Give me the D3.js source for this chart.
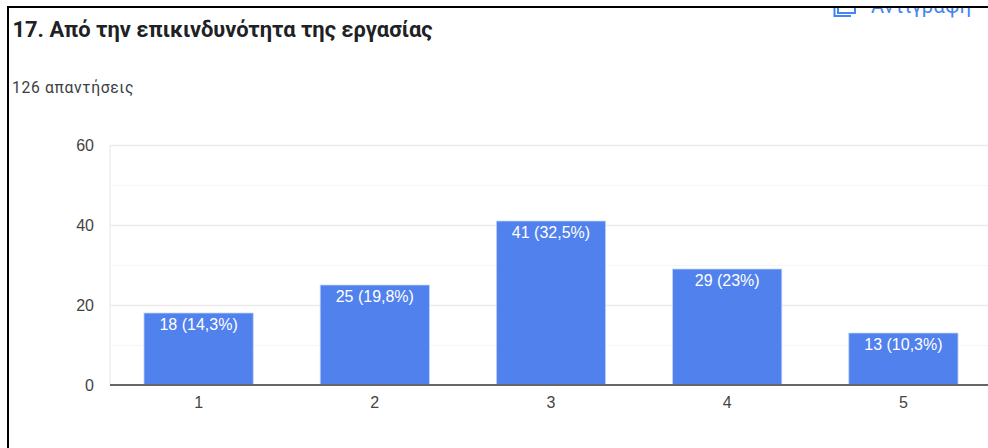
<!DOCTYPE html>
<html>
<head>
<meta charset="utf-8">
<script src="https://cdn.jsdelivr.net/npm/d3@7/dist/d3.min.js"></script>
<style>
html, body { margin: 0; padding: 0; background: #fff; }
svg { display: block; }
</style>
</head>
<body>
<svg id="chart" width="988" height="448"></svg>
<script>
const categories = ["1", "2", "3", "4", "5"];
const counts = [18, 25, 41, 29, 13];
const percentLabels = ["14,3%", "19,8%", "32,5%", "23%", "10,3%"];
const majorTicks = [0, 20, 40, 60];
const minorTicks = [10, 30, 50];

const titleText = "17. Από την επικινδυνότητα της εργασίας";
const subtitleText = "126 απαντήσεις";
const copyText = "Αντιγραφή";

const svg = d3.select("#chart");
const fontFamily = "Roboto, sans-serif";
const chartFont = "'Liberation Sans', Arial, sans-serif";

const x = d3.scaleBand().domain(categories).range([110.5, 991.5]).paddingInner(0.38).paddingOuter(0.19);
const y = d3.scaleLinear().domain([0, 60]).range([385, 145]);

// Panel header
svg.append("text").attr("x", 12.5).attr("y", 37)
  .attr("font-family", fontFamily).attr("font-size", 21.9).attr("font-weight", 700)
  .attr("fill", "#202124").text(titleText);
svg.append("text").attr("x", 12).attr("y", 93)
  .attr("font-family", fontFamily).attr("font-size", 15.7).attr("letter-spacing", 0.65)
  .attr("fill", "#3c4043").text(subtitleText);

// Copy button, cut off by the panel's top edge
svg.append("clipPath").attr("id", "panel-clip").append("rect")
  .attr("x", 0).attr("y", 7).attr("width", 988).attr("height", 441);
const copyBtn = svg.append("g").attr("clip-path", "url(#panel-clip)");
copyBtn.append("rect").attr("x", 838).attr("y", 2).attr("width", 17).attr("height", 11)
  .attr("fill", "none").attr("stroke", "#4285f4").attr("stroke-width", 2);
copyBtn.append("path").attr("d", d3.line()([[834.5, 2], [834.5, 16], [851, 16]]))
  .attr("fill", "none").attr("stroke", "#4285f4").attr("stroke-width", 2);
copyBtn.append("text").attr("x", 871).attr("y", 13)
  .attr("font-family", fontFamily).attr("font-size", 20).attr("letter-spacing", 0.4)
  .attr("fill", "#4285f4").text(copyText);

// Gridlines
const grid = svg.append("g");
grid.selectAll("line.minor").data(minorTicks).join("line").attr("class", "minor")
  .attr("x1", 110).attr("x2", 988).attr("y1", d => y(d) + 0.5).attr("y2", d => y(d) + 0.5)
  .attr("stroke", "#f6f6f6");
grid.selectAll("line.major").data(majorTicks.filter(d => d > 0)).join("line").attr("class", "major")
  .attr("x1", 110).attr("x2", 988).attr("y1", d => y(d) + 0.5).attr("y2", d => y(d) + 0.5)
  .attr("stroke", "#ececec").attr("stroke-width", 1.3);
grid.append("line").attr("x1", 110).attr("x2", 110).attr("y1", y(60)).attr("y2", y(0))
  .attr("stroke", "#ececec").attr("stroke-width", 1.3);

// Value axis
const yAxis = svg.append("g").attr("transform", "translate(110,0)")
  .call(d3.axisLeft(y).tickValues(majorTicks).tickSize(0).tickPadding(16));
yAxis.select(".domain").remove();
yAxis.selectAll("text").attr("font-family", chartFont).attr("font-size", 16).attr("fill", "#444");

// Bars
const barData = categories.map((c, i) => ({ c, v: counts[i], p: percentLabels[i] }));
svg.append("g").selectAll("rect").data(barData).join("rect")
  .attr("x", d => x(d.c)).attr("width", x.bandwidth())
  .attr("y", d => y(d.v)).attr("height", d => y(0) - y(d.v))
  .attr("fill", "#5181ec").attr("stroke", "#c4d4f8").attr("stroke-width", 0.8);

// Value labels inside the bars
svg.append("g").selectAll("text").data(barData).join("text")
  .attr("x", d => x(d.c) + x.bandwidth() / 2).attr("y", d => y(d.v) + 17)
  .attr("text-anchor", "middle")
  .attr("font-family", chartFont).attr("font-size", 16).attr("fill", "#fff")
  .text(d => `${d.v} (${d.p})`);

// Category axis
const xAxis = svg.append("g").attr("transform", "translate(0,385)")
  .call(d3.axisBottom(x).tickSize(0).tickPadding(12));
xAxis.select(".domain").attr("d", "M110,0H988").attr("stroke", "#666").attr("stroke-width", 1.8);
xAxis.selectAll("text").attr("font-family", chartFont).attr("font-size", 16).attr("fill", "#444");

// Screenshot frame: top and left rules of the panel
svg.append("line").attr("x1", 7).attr("x2", 988).attr("y1", 7).attr("y2", 7)
  .attr("stroke", "#000").attr("stroke-width", 2);
svg.append("line").attr("x1", 8).attr("x2", 8).attr("y1", 6).attr("y2", 448)
  .attr("stroke", "#000").attr("stroke-width", 2);
</script>
</body>
</html>
